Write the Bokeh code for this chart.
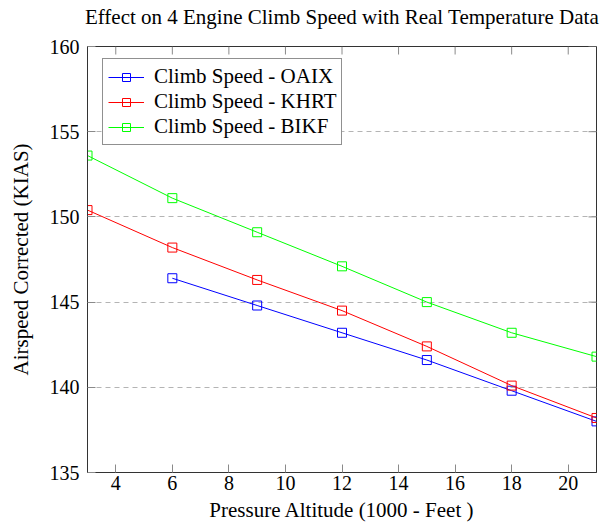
from bokeh.plotting import figure
from bokeh.models import Range1d, FixedTicker, Legend, LegendItem, LinearAxis
from bokeh.embed import file_html
from bokeh.resources import INLINE

altitude_oaix = [6, 9, 12, 15, 18, 21]
speed_oaix = [146.4, 144.8, 143.2, 141.6, 139.8, 138.0]
altitude_khrt = [3, 6, 9, 12, 15, 18, 21]
speed_khrt = [150.4, 148.2, 146.3, 144.5, 142.4, 140.1, 138.2]
altitude_bikf = [3, 6, 9, 12, 15, 18, 21]
speed_bikf = [153.6, 151.1, 149.1, 147.1, 145.0, 143.2, 141.8]
x_ticks = [4, 6, 8, 10, 12, 14, 16, 18, 20]
y_ticks = [135, 140, 145, 150, 155, 160]
x_min, x_max = 3, 21
y_min, y_max = 135, 160
title_text = "Effect on 4 Engine Climb Speed with Real Temperature Data"

FONT = "Liberation Serif"
W, H = 610, 531
BL, BR, BT, BB = 87, 14, 46, 59
TICK_PX = 8
TICK_COLOR = "#8a8a8a"

p = figure(width=W, height=H, output_backend="svg", toolbar_location=None,
           x_range=Range1d(x_min, x_max), y_range=Range1d(y_min, y_max),
           min_border_left=BL, min_border_right=BR, min_border_top=BT, min_border_bottom=BB)

frame_w = W - BL - BR
frame_h = H - BT - BB

bottom_axis = p.below[0]
left_axis = p.left[0]

p.xgrid.visible = False
p.ygrid.grid_line_color = "#b4b4b4"
p.ygrid.grid_line_dash = "5 4"
p.ygrid.ticker = FixedTicker(ticks=y_ticks)
p.outline_line_color = "#333333"
p.outline_line_width = 1

for ax, ticks in ((bottom_axis, x_ticks), (left_axis, y_ticks)):
    ax.ticker = FixedTicker(ticks=ticks)
    ax.major_tick_in = TICK_PX
    ax.major_tick_out = 0
    ax.minor_tick_line_color = None
    ax.major_label_text_font = FONT
    ax.major_label_text_font_size = "20px"
    ax.major_label_text_color = "black"
    ax.axis_label_text_font = FONT
    ax.axis_label_text_font_size = "21px"
    ax.axis_label_text_font_style = "normal"
    ax.axis_label_text_color = "black"
    ax.axis_line_color = "#333333"
    ax.major_tick_line_color = TICK_COLOR

bottom_axis.axis_label = "Pressure Altitude (1000 - Feet )"
left_axis.axis_label = "Airspeed Corrected (KIAS)"
bottom_axis.major_label_standoff = 3
left_axis.major_label_standoff = 8
bottom_axis.axis_label_standoff = 5
left_axis.axis_label_standoff = 14

# title: label of a tick-less axis above the frame
title_axis = LinearAxis(ticker=FixedTicker(ticks=[]), axis_line_color=None,
                        major_tick_line_color=None, minor_tick_line_color=None,
                        major_tick_in=0, major_tick_out=0,
                        axis_label=title_text, axis_label_text_font=FONT,
                        axis_label_text_font_size="21px", axis_label_text_font_style="normal",
                        axis_label_text_color="black", axis_label_standoff=18,
                        major_label_standoff=0)
p.add_layout(title_axis, "above")

# inward ticks on the top and right edges of the frame
dy = TICK_PX * (y_max - y_min) / frame_h
dx = TICK_PX * (x_max - x_min) / frame_w
p.segment(x0=x_ticks, y0=[y_max] * len(x_ticks), x1=x_ticks, y1=[y_max - dy] * len(x_ticks),
          line_color=TICK_COLOR, line_width=1)
p.segment(x0=[x_max] * len(y_ticks), y0=y_ticks, x1=[x_max - dx] * len(y_ticks), y1=y_ticks,
          line_color=TICK_COLOR, line_width=1)

items = []
for xs, ys, color, name in ((altitude_oaix, speed_oaix, "#0000ff", "Climb Speed - OAIX"),
                            (altitude_khrt, speed_khrt, "#ff0000", "Climb Speed - KHRT"),
                            (altitude_bikf, speed_bikf, "#00ff00", "Climb Speed - BIKF")):
    l = p.line(xs, ys, line_color=color, line_width=1)
    m = p.scatter(xs, ys, marker="square", size=9, fill_color=None, line_color=color, line_width=1)
    items.append(LegendItem(label=name, renderers=[l, m]))

legend = Legend(items=items, location=(15, 327), label_text_font=FONT,
                label_text_font_size="21px", label_text_color="black",
                border_line_color="#222222", border_line_width=1,
                padding=5, spacing=0, label_height=23, glyph_width=36, glyph_height=20,
                label_standoff=10, margin=0, background_fill_alpha=1)
p.add_layout(legend, "center")

open("out.html", "w").write(file_html(p, INLINE))
